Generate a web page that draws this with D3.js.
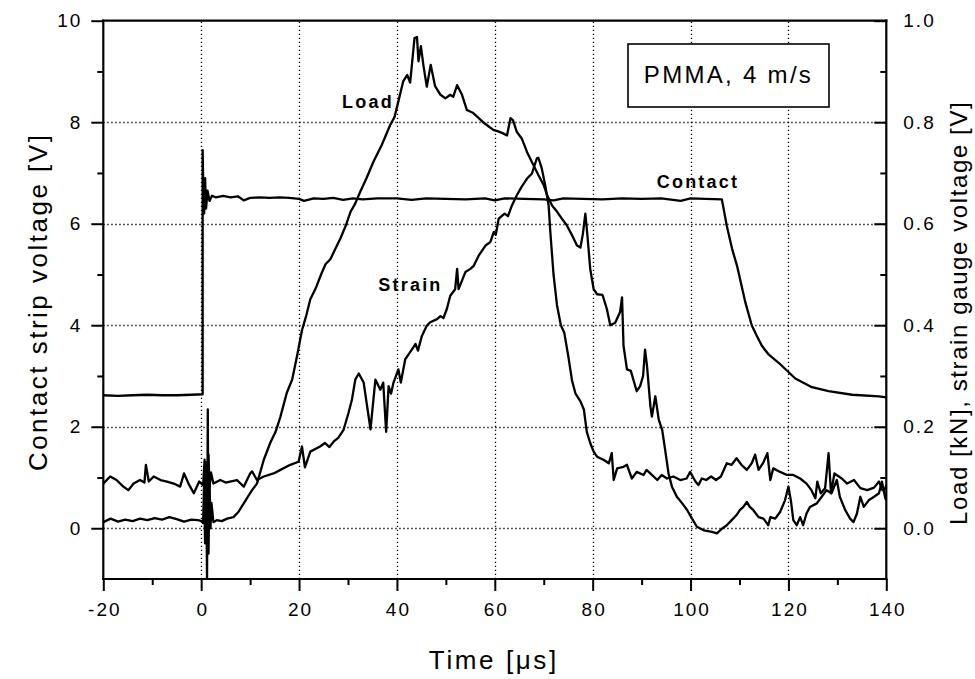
<!DOCTYPE html>
<html>
<head>
<meta charset="utf-8">
<script src="https://cdn.jsdelivr.net/npm/d3@7"></script>
<style>
  html, body { margin: 0; padding: 0; background: #fff; }
  svg { display: block; }
  text { font-family: "Liberation Sans", Arial, Helvetica, sans-serif; fill: #000; }
</style>
</head>
<body>
<svg id="chart" width="975" height="679"></svg>
<script>
// ---------------- DATA ----------------
// Time axis ticks (µs)
const xMajorTicks = [-20, 0, 20, 40, 60, 80, 100, 120, 140];
const xMinorTicks = [-10, 10, 30, 50, 70, 90, 110, 130];
const xGrid = [0, 20, 40, 60, 80, 100, 120];
// Left axis: contact strip voltage [V]
const yLeftTicks = [0, 2, 4, 6, 8, 10];
const yLeftMinor = [1, 3, 5, 7, 9];
const yGrid = [0, 2, 4, 6, 8];
// Right axis: load [kN], strain gauge voltage [V]
const yRightTicks = [0.0, 0.2, 0.4, 0.6, 0.8, 1.0];
const yRightMinor = [0.1, 0.3, 0.5, 0.7, 0.9];

// Contact strip voltage [V] vs time [µs] (left axis)
const contactSeries = [
  [-20, 2.62], [-17, 2.61], [-14, 2.62], [-11, 2.63], [-8, 2.62], [-5, 2.62], [-2, 2.63], [0.3, 2.64],
  [0.3, 7.45], [0.45, 6.6], [0.6, 6.2], [0.8, 6.9], [1.0, 6.3], [1.3, 6.65], [1.7, 6.45], [2.2, 6.55],
  [3, 6.52], [4.5, 6.55], [6, 6.52], [7.5, 6.54], [8.7, 6.46], [10, 6.51], [12, 6.52], [14, 6.51],
  [16, 6.52], [18, 6.51], [20, 6.49], [21, 6.45], [23, 6.5], [25, 6.49], [27, 6.51], [29, 6.47],
  [31, 6.5], [33, 6.48], [36, 6.5], [40, 6.5], [43, 6.47], [46, 6.5], [50, 6.49], [54, 6.48],
  [58, 6.5], [60, 6.46], [62, 6.5], [66, 6.49], [70, 6.48], [72, 6.46], [74, 6.5], [78, 6.49],
  [82, 6.48], [86, 6.5], [90, 6.49], [94, 6.5], [98, 6.45], [100, 6.5], [103, 6.49], [106.4, 6.48],
  [107.4, 5.96], [108.5, 5.5], [109.5, 5.17], [111.2, 4.45], [112.5, 4.0], [113.5, 3.8], [114.6, 3.59],
  [116, 3.42], [118, 3.26], [121.4, 2.95], [124.8, 2.78], [128.2, 2.7], [133, 2.63], [138.5, 2.6], [140, 2.58]
];

// Load [kN] vs time [µs] (right axis)
const loadSeries = [
  [-20, 0.012], [-18.5, 0.019], [-17, 0.013], [-15.5, 0.017], [-14, 0.014], [-12.5, 0.019], [-11, 0.016],
  [-9.5, 0.020], [-8, 0.017], [-6.5, 0.022], [-5, 0.018], [-3.5, 0.013], [-2, 0.017], [-0.7, 0.016],
  [0.2, 0.014], [0.4, 0.01], [0.6, 0.09], [0.8, -0.03], [1.0, 0.12], [1.2, -0.1], [1.35, 0.234],
  [1.5, -0.05], [1.7, 0.10], [1.9, 0.0], [2.1, 0.05], [2.5, 0.012], [3.2, 0.016], [4.2, 0.014],
  [5.3, 0.019], [6.6, 0.022], [7.6, 0.032], [8.7, 0.049], [9.4, 0.060], [10.4, 0.075], [11.4, 0.088],
  [12.8, 0.135], [14.1, 0.168], [15.2, 0.19], [16.2, 0.22], [17.5, 0.267], [18.6, 0.293], [19.6, 0.34],
  [20.6, 0.39], [21.5, 0.42], [22.3, 0.451], [23.5, 0.475], [24.5, 0.50], [25.4, 0.52], [26.4, 0.53],
  [27.4, 0.55], [28.4, 0.57], [29.5, 0.595], [30.5, 0.623], [31.5, 0.64], [32.5, 0.663], [33.8, 0.69],
  [35.2, 0.722], [36.9, 0.755], [38.6, 0.794], [39.5, 0.81], [40.3, 0.841], [41.3, 0.881], [42.1, 0.893],
  [42.7, 0.878], [43.6, 0.966], [44.1, 0.968], [44.4, 0.92], [44.9, 0.95], [45.4, 0.913], [46.1, 0.87],
  [46.9, 0.913], [47.8, 0.871], [48.9, 0.854], [49.9, 0.847], [50.9, 0.854], [51.5, 0.85], [52.3, 0.873],
  [53.3, 0.854], [54.3, 0.824], [55.6, 0.818], [56.5, 0.81], [57.6, 0.80], [58.7, 0.792], [59.7, 0.785],
  [60.7, 0.782], [61.7, 0.778], [62.5, 0.774], [63.2, 0.808], [63.7, 0.804], [64.5, 0.781], [65.5, 0.768],
  [66.6, 0.741], [67.6, 0.721], [68.9, 0.696], [70.0, 0.676], [70.7, 0.656], [71.7, 0.636], [72.7, 0.624],
  [73.7, 0.61], [74.7, 0.597], [75.8, 0.577], [76.8, 0.557], [77.5, 0.553], [78.0, 0.58], [78.5, 0.62],
  [78.9, 0.58], [79.5, 0.511], [80.2, 0.471], [80.9, 0.461], [82.0, 0.46], [82.9, 0.432], [83.6, 0.40],
  [84.6, 0.405], [85.6, 0.426], [86.0, 0.455], [86.3, 0.36], [87.0, 0.313], [87.8, 0.31], [89.0, 0.27],
  [89.7, 0.28], [90.3, 0.30], [90.7, 0.352], [91.1, 0.32], [91.8, 0.24], [92.1, 0.22], [92.8, 0.26],
  [93.5, 0.214], [94.2, 0.194], [94.8, 0.155], [95.5, 0.108], [96.2, 0.082], [97.2, 0.062], [98.3, 0.049],
  [99.3, 0.036], [100.3, 0.019], [101.3, 0.003], [102.7, -0.004], [104.4, -0.007], [105.4, -0.01],
  [106.4, -0.001], [107.4, 0.006], [108.4, 0.016], [109.4, 0.026], [110.1, 0.036], [110.8, 0.042],
  [111.5, 0.052], [112.1, 0.042], [112.8, 0.036], [113.9, 0.022], [114.9, 0.019], [115.9, 0.006],
  [116.3, 0.022], [117.3, 0.019], [118.3, 0.032], [119.3, 0.055], [120.0, 0.082], [120.5, 0.055],
  [121.0, 0.016], [121.7, 0.006], [122.4, 0.022], [123.0, 0.006], [123.7, 0.029], [124.4, 0.042],
  [125.8, 0.049], [126.8, 0.062], [127.8, 0.075], [128.8, 0.069], [129.9, 0.095], [130.5, 0.062],
  [131.6, 0.036], [132.6, 0.019], [133.3, 0.012], [134.0, 0.029], [134.7, 0.062], [135.4, 0.042],
  [136.4, 0.055], [137.5, 0.062], [138.5, 0.069], [139.1, 0.092], [139.8, 0.059], [140, 0.055]
];

// Strain gauge voltage [V] vs time [µs] (right axis)
const strainSeries = [
  [-20, 0.088], [-18.6, 0.102], [-17.3, 0.095], [-15.9, 0.082], [-14.9, 0.075], [-13.8, 0.088],
  [-12.5, 0.095], [-11.6, 0.09], [-11.3, 0.125], [-10.7, 0.092], [-9.7, 0.102], [-8.3, 0.095],
  [-7, 0.092], [-5.6, 0.088], [-4.3, 0.082], [-3.5, 0.108], [-2.6, 0.088], [-1.5, 0.069], [-0.4, 0.092],
  [0.4, 0.085], [0.7, 0.135], [0.9, 0.06], [1.1, 0.13], [1.3, 0.07], [1.5, 0.145], [1.7, 0.08],
  [2.0, 0.11], [2.5, 0.088], [3.9, 0.095], [5.0, 0.09], [5.9, 0.092], [7.3, 0.095], [8.7, 0.082],
  [10.0, 0.108], [10.4, 0.112], [11.4, 0.095], [12.8, 0.102], [14.8, 0.108], [16.2, 0.115], [18.2, 0.125],
  [19.9, 0.131], [20.6, 0.161], [21.2, 0.12], [22.3, 0.151], [24.3, 0.161], [25.3, 0.168], [26.2, 0.16],
  [27.1, 0.171], [28, 0.178], [29.1, 0.194], [30.1, 0.227], [30.8, 0.253], [31.5, 0.293], [32.2, 0.305],
  [33.2, 0.287], [34.6, 0.195], [35.6, 0.293], [36.6, 0.273], [37.2, 0.287], [37.8, 0.19], [38.3, 0.28],
  [38.8, 0.265], [39.3, 0.287], [40.3, 0.313], [40.8, 0.287], [41.7, 0.333], [42.7, 0.347], [43.8, 0.363],
  [44.3, 0.35], [45.1, 0.379], [46.1, 0.399], [46.8, 0.406], [48.2, 0.412], [48.9, 0.418], [49.5, 0.414],
  [50.2, 0.432], [50.9, 0.458], [51.9, 0.471], [52.3, 0.511], [52.6, 0.471], [53.3, 0.488], [54, 0.505],
  [55, 0.511], [55.7, 0.517], [56.7, 0.537], [58.1, 0.557], [59.1, 0.564], [59.8, 0.584], [60.2, 0.578],
  [60.8, 0.61], [62, 0.62], [62.7, 0.615], [63.5, 0.636], [64.5, 0.656], [65.5, 0.673], [66.6, 0.689],
  [67.6, 0.699], [68.6, 0.729], [68.9, 0.73], [69.6, 0.709], [70.3, 0.676], [71, 0.636], [71.3, 0.59],
  [72.0, 0.50], [72.7, 0.44], [73.5, 0.40], [74.2, 0.385], [75.0, 0.34], [75.8, 0.29], [76.5, 0.265],
  [77.5, 0.25], [78.2, 0.234], [78.8, 0.19], [79.5, 0.168], [80.2, 0.151], [80.9, 0.141], [82.2, 0.135],
  [83.3, 0.128], [83.9, 0.148], [84.3, 0.095], [85, 0.118], [86.3, 0.121], [87, 0.125], [88, 0.098],
  [89, 0.111], [90.4, 0.105], [91, 0.115], [92.1, 0.105], [93.2, 0.095], [94.1, 0.105], [95.2, 0.098],
  [96.5, 0.102], [97.9, 0.095], [99.2, 0.098], [99.9, 0.111], [101, 0.092], [101.6, 0.085], [102.3, 0.098],
  [103.2, 0.095], [104.2, 0.102], [105.2, 0.095], [106.2, 0.102], [107.4, 0.128], [108.4, 0.125],
  [109.4, 0.138], [110.4, 0.125], [111.5, 0.115], [112.5, 0.128], [113.2, 0.145], [113.9, 0.115],
  [114.9, 0.13], [115.7, 0.148], [116.3, 0.095], [116.9, 0.118], [118.3, 0.111], [119.7, 0.105],
  [121, 0.105], [122.4, 0.098], [123.7, 0.088], [124.7, 0.075], [125.5, 0.059], [125.9, 0.092],
  [126.6, 0.069], [127.5, 0.079], [128.2, 0.148], [128.7, 0.069], [129.4, 0.108], [130.9, 0.098],
  [132, 0.088], [133.4, 0.095], [134.7, 0.079], [136.1, 0.075], [137.5, 0.08], [138.5, 0.092],
  [139.2, 0.075], [139.8, 0.079], [140, 0.085]
];

// Text
const xTitle = "Time [\u03bcs]";
const yLeftTitle = "Contact strip voltage [V]";
const yRightTitle = "Load [kN], strain gauge voltage [V]";
const legendText = "PMMA, 4 m/s";
// curve labels, anchored in data units (time µs, left-axis V)
const curveLabels = [
  { text: "Load",    t: 28.8, v: 8.28 },
  { text: "Strain",  t: 36.2, v: 4.67 },
  { text: "Contact", t: 93.1, v: 6.70 }
];

// ---------------- CHART ----------------
const svg = d3.select("#chart");
const x = d3.scaleLinear().domain([-20, 140]).range([103.3, 886.3]);
const yL = d3.scaleLinear().domain([-1, 10]).range([579, 20.7]);
const yR = d3.scaleLinear().domain([-0.1, 1.0]).range([579, 20.7]);

const X0 = x.range()[0], X1 = x.range()[1], Y0 = yL.range()[0], Y1 = yL.range()[1];

// grid (dotted)
const grid = svg.append("g").attr("stroke", "#000").attr("stroke-width", 1.3).attr("stroke-dasharray", "1.3,2.7");
grid.selectAll("line.v").data(xGrid).join("line").attr("class", "v")
  .attr("x1", d => Math.round(x(d)) + 0.5).attr("x2", d => Math.round(x(d)) + 0.5).attr("y1", Y0).attr("y2", Y1);
grid.selectAll("line.h").data(yGrid).join("line").attr("class", "h")
  .attr("x1", X0).attr("x2", X1).attr("y1", d => Math.round(yL(d)) + 0.5).attr("y2", d => Math.round(yL(d)) + 0.5);

// clip
svg.append("clipPath").attr("id", "plotclip").append("rect")
  .attr("x", X0).attr("y", Y1).attr("width", X1 - X0).attr("height", Y0 - Y1);

const lines = svg.append("g").attr("clip-path", "url(#plotclip)")
  .attr("fill", "none").attr("stroke", "#000").attr("stroke-width", 2.3).attr("stroke-linejoin", "round");
lines.append("path").datum(contactSeries)
  .attr("d", d3.line().x(d => x(d[0])).y(d => yL(d[1])));
lines.append("path").datum(loadSeries)
  .attr("d", d3.line().x(d => x(d[0])).y(d => yR(d[1])));
lines.append("path").datum(strainSeries)
  .attr("d", d3.line().x(d => x(d[0])).y(d => yR(d[1])));

// axes
const tickFont = 19, ls = 2;
const intFmt = d => String(d);          // plain hyphen-minus as in the original
const decFmt = d => d.toFixed(1);
function styleAxis(g) {
  g.select(".domain").remove();
  g.selectAll(".tick line").attr("stroke", "#000").attr("stroke-width", 2);
  g.selectAll("text").attr("font-size", tickFont).style("letter-spacing", ls + "px")
    .attr("font-family", '"Liberation Sans", Arial, sans-serif').attr("fill", "#000");
}
// bottom
svg.append("g").attr("transform", `translate(0,${Y0})`)
  .call(d3.axisBottom(x).tickValues(xMajorTicks).tickSize(12).tickPadding(12).tickFormat(intFmt))
  .call(styleAxis).call(g => g.selectAll("text").attr("dx", ls / 2));
svg.append("g").attr("transform", `translate(0,${Y0})`)
  .call(d3.axisBottom(x).tickValues(xMinorTicks).tickSize(6).tickFormat(""))
  .call(styleAxis);
// left
svg.append("g").attr("transform", `translate(${X0},0)`)
  .call(d3.axisLeft(yL).tickValues(yLeftTicks).tickSize(12).tickPadding(9).tickFormat(intFmt))
  .call(styleAxis);
svg.append("g").attr("transform", `translate(${X0},0)`)
  .call(d3.axisLeft(yL).tickValues(yLeftMinor).tickSize(6).tickFormat(""))
  .call(styleAxis);
// right (ticks inward)
svg.append("g").attr("transform", `translate(${X1},0)`)
  .call(d3.axisRight(yR).tickValues(yRightTicks).tickSizeInner(-12).tickSizeOuter(0).tickPadding(17).tickFormat(decFmt))
  .call(styleAxis);
svg.append("g").attr("transform", `translate(${X1},0)`)
  .call(d3.axisRight(yR).tickValues(yRightMinor).tickSizeInner(-6).tickSizeOuter(0).tickFormat(""))
  .call(styleAxis);

// frame
const frame = svg.append("g").attr("stroke", "#000").attr("stroke-width", 2.2).attr("stroke-linecap", "square");
frame.append("line").attr("x1", X0).attr("x2", X1).attr("y1", Y0).attr("y2", Y0);
frame.append("line").attr("x1", X0).attr("x2", X1).attr("y1", Y1).attr("y2", Y1);
frame.append("line").attr("x1", X0).attr("x2", X0).attr("y1", Y0).attr("y2", Y1);
frame.append("line").attr("x1", X1).attr("x2", X1).attr("y1", Y0).attr("y2", Y1);

// titles
svg.append("text").text(xTitle)
  .attr("x", (X0 + X1) / 2 - 1).attr("y", 669).attr("text-anchor", "middle")
  .attr("font-size", 26).style("letter-spacing", "2.6px");
svg.append("text").text(yLeftTitle)
  .attr("transform", `translate(47,${(Y0 + Y1) / 2 + 2}) rotate(-90)`).attr("text-anchor", "middle")
  .attr("font-size", 26).style("letter-spacing", "2.5px");
svg.append("text").text(yRightTitle)
  .attr("transform", `translate(967,${(Y0 + Y1) / 2 + 13}) rotate(-90)`).attr("text-anchor", "middle")
  .attr("font-size", 24).style("letter-spacing", "1.6px");

// legend box
svg.append("rect").attr("x", 628).attr("y", 44).attr("width", 201).attr("height", 63)
  .attr("fill", "#fff").attr("stroke", "#000").attr("stroke-width", 1.6);
svg.append("text").text(legendText).attr("x", 728.5).attr("y", 83).attr("text-anchor", "middle")
  .attr("font-size", 24).style("letter-spacing", "2.3px");

// curve labels (bold)
svg.selectAll("text.lbl").data(curveLabels).join("text").attr("class", "lbl")
  .text(d => d.text)
  .attr("x", d => x(d.t)).attr("y", d => yL(d.v))
  .attr("font-size", 18).attr("font-weight", "bold").style("letter-spacing", "2.2px");
</script>
</body>
</html>
